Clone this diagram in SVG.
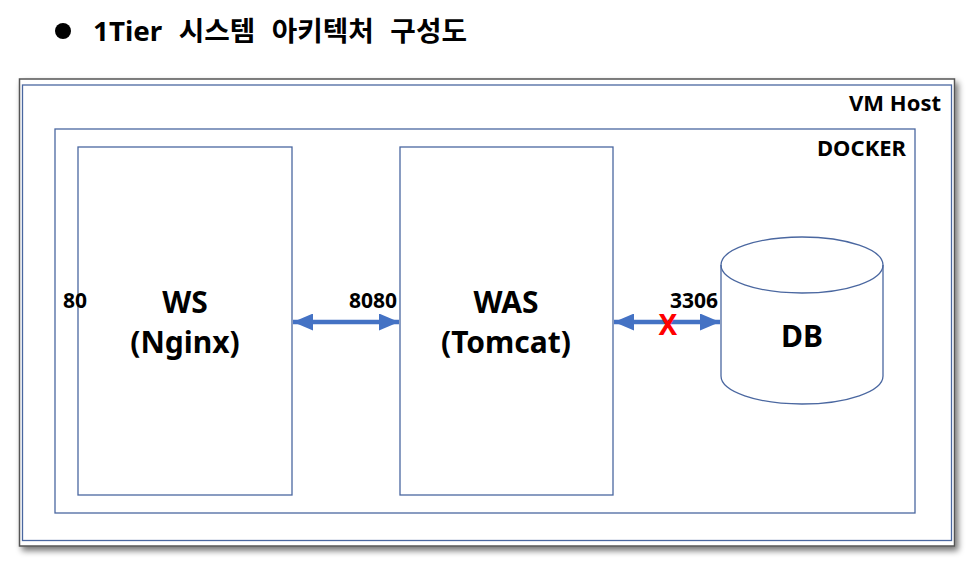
<svg xmlns="http://www.w3.org/2000/svg" width="974" height="565" viewBox="0 0 974 565">
<defs>
<filter id="sh" x="-5%" y="-5%" width="110%" height="115%">
<feGaussianBlur in="SourceAlpha" stdDeviation="3"/>
<feOffset dx="3" dy="4" result="b"/>
<feComponentTransfer><feFuncA type="linear" slope="0.55"/></feComponentTransfer>
<feMerge><feMergeNode/><feMergeNode in="SourceGraphic"/></feMerge>
</filter>
<marker id="ah" viewBox="0 0 20 17" markerUnits="userSpaceOnUse" markerWidth="20" markerHeight="17" refX="20" refY="8.5" orient="auto-start-reverse">
<path d="M0,0 L20,8.5 L0,17 Z" fill="#4472C4"/>
</marker>
<style>
.box{fill:#fff;stroke:#4A67A0;stroke-width:1.3}
.t{font-family:"Noto Sans","Noto Sans CJK KR",sans-serif;font-weight:bold;fill:#000}
.big{font-size:30px;text-anchor:middle}
.port{font-size:21px}
.lbl{font-size:22px;text-anchor:end}
.conn{stroke:#4472C4;stroke-width:4.5;fill:none}
</style>
</defs>
<g id="title">
<circle cx="63" cy="31" r="8" fill="#000"/>
<text class="t" x="93" y="41" font-size="27" font-family="'Noto Sans CJK KR',sans-serif" word-spacing="9" textLength="374" lengthAdjust="spacingAndGlyphs">1Tier 시스템 아키텍처 구성도</text>
</g>
<g id="vmhost">
<rect x="19.5" y="79" width="935" height="467" fill="#fff" stroke="#555" stroke-width="1.5" filter="url(#sh)"/>
<rect class="box" x="22.5" y="85" width="929" height="455.5"/>
<text class="t lbl" x="941" y="111">VM Host</text>
</g>
<g id="docker">
<rect class="box" x="55" y="129" width="860" height="384"/>
<text class="t lbl" x="906" y="156">DOCKER</text>
</g>
<g id="ws">
<rect class="box" x="78" y="147" width="214" height="348"/>
<text class="t big" x="185" y="313">WS</text>
<text class="t big" x="185" y="353">(Nginx)</text>
<text class="t port" x="63" y="308">80</text>
</g>
<g id="was">
<rect class="box" x="400" y="147" width="213" height="348"/>
<text class="t big" x="506" y="313">WAS</text>
<text class="t big" x="506" y="353">(Tomcat)</text>
</g>
<g id="db">
<path class="box" d="M721,265 L721,376 A81,28 0 0 0 883,376 L883,265 A81,28 0 0 0 721,265 Z"/>
<path d="M721,265 A81,28 0 0 0 883,265" fill="none" stroke="#4A67A0" stroke-width="1.3"/>
<text class="t big" x="802" y="347">DB</text>
</g>
<g id="connectors">
<line class="conn" x1="293" y1="322" x2="399" y2="322" marker-start="url(#ah)" marker-end="url(#ah)"/>
<text class="t port" x="397" y="308" text-anchor="end">8080</text>
<line class="conn" x1="614" y1="322" x2="720" y2="322" marker-start="url(#ah)" marker-end="url(#ah)"/>
<text class="t port" x="718" y="308" text-anchor="end">3306</text>
<text x="668" y="335" text-anchor="middle" font-family="'Noto Sans',sans-serif" font-weight="bold" font-size="28" fill="#FF0000">X</text>
</g>
</svg>
